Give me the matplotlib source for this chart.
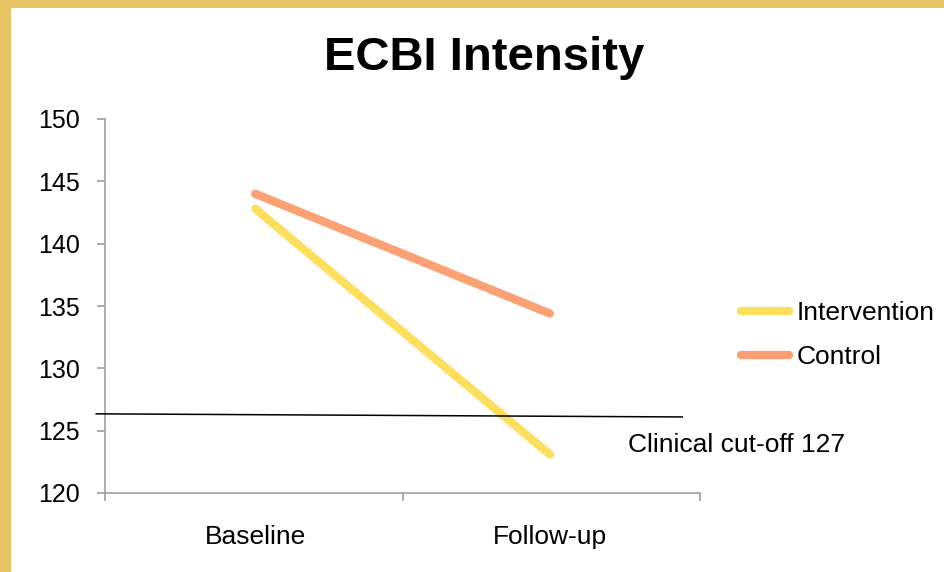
import matplotlib.pyplot as plt
from matplotlib.patches import Rectangle

# ECBI intensity data
categories = ["Baseline", "Follow-up"]
intervention = [142.8, 123.1]
control = [144.0, 134.4]
series_names = ["Intervention", "Control"]
cutoff_label = "Clinical cut-off 127"
cutoff_x = [-0.54, 1.45]
cutoff_y = [126.35, 126.1]
y_ticks = [120, 125, 130, 135, 140, 145, 150]

plt.rcParams["font.family"] = ["Liberation Sans", "DejaVu Sans"]

W, H = 944, 572
FS = 19
fig = plt.figure(figsize=(W / 100, H / 100), dpi=100, facecolor="#E6C466")
# white slide panel inside the yellow border
fig.patches.append(Rectangle((11 / W, 0), 1 - 11 / W, 1 - 8 / H,
                             transform=fig.transFigure, facecolor="white",
                             edgecolor="none", zorder=-10))

ax = fig.add_axes([105 / W, 1 - 493 / H, (700 - 105) / W, (493 - 119) / H])
ax.set_facecolor("none")

x = list(range(len(categories)))
ax.plot(x, intervention, color="#FDDF5E", lw=6, solid_capstyle="round",
        label=series_names[0], zorder=3)
ax.plot(x, control, color="#FCA173", lw=6, solid_capstyle="round",
        label=series_names[1], zorder=3)

ax.plot(cutoff_x, cutoff_y, color="black", lw=1.1, clip_on=False, zorder=4)
ax.text(1.264, 123.85, cutoff_label, fontsize=FS, va="center", ha="left")

ax.set_xlim(-0.51, 1.51)
ax.set_ylim(120, 150)
ax.set_yticks(y_ticks)
ax.set_xticks(x)
ax.set_xticklabels(categories)
ax.set_xticks([-0.51, 0.5, 1.51], minor=True)

for side in ["top", "right"]:
    ax.spines[side].set_visible(False)
for side in ["left", "bottom"]:
    ax.spines[side].set_color("#A0A0A0")
    ax.spines[side].set_linewidth(1.2)

ax.tick_params(axis="y", length=6, width=1.2, color="#A0A0A0",
               labelsize=18, pad=12)
ax.tick_params(axis="x", which="major", length=0, labelsize=FS, pad=23)
ax.tick_params(axis="x", which="minor", length=6, width=1.2, color="#A0A0A0")

fig.text(484 / W, 1 - 58 / H, "ECBI Intensity", fontsize=34,
         fontweight="bold", ha="center", va="center")

fig.legend(loc="center left", bbox_to_anchor=(728 / W, 1 - 335 / H),
           frameon=False, fontsize=FS, borderpad=0, handlelength=1.8,
           handletextpad=0.3, labelspacing=0.74)

fig.savefig("out.png", dpi=100, facecolor=fig.get_facecolor())
